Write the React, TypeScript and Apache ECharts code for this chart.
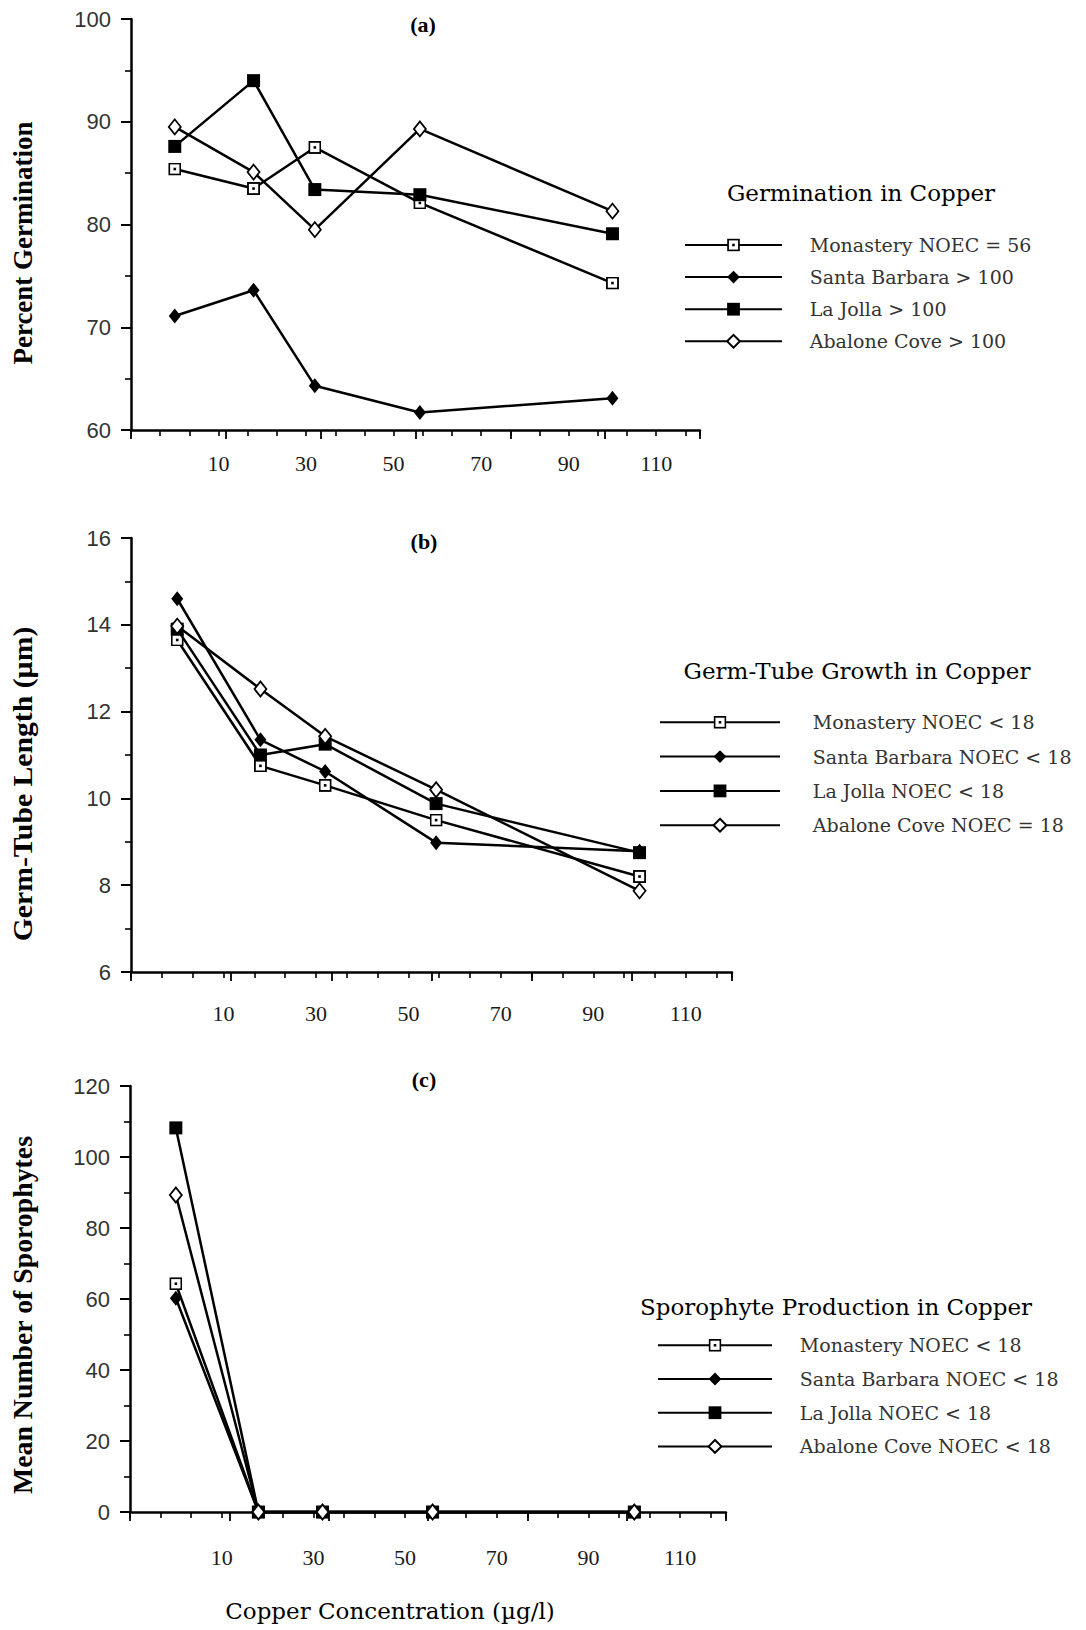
import React, { useEffect, useRef } from "react";
import * as echarts from "echarts";

// ---- Data ----
const concentrations = [0, 18, 32, 56, 100];

const germSeriesNames = [
  "Monastery NOEC = 56",
  "Santa Barbara > 100",
  "La Jolla > 100",
  "Abalone Cove > 100",
];
const monasteryGerm = [85.4, 83.5, 87.5, 82.1, 74.3];
const santaBarbaraGerm = [71.1, 73.6, 64.3, 61.7, 63.1];
const laJollaGerm = [87.6, 94.0, 83.4, 82.9, 79.1];
const abaloneGerm = [89.5, 85.1, 79.5, 89.3, 81.3];

const tubeSeriesNames = [
  "Monastery NOEC < 18",
  "Santa Barbara NOEC < 18",
  "La Jolla NOEC < 18",
  "Abalone Cove NOEC = 18",
];
const monasteryTube = [13.65, 10.75, 10.3, 9.5, 8.2];
const santaBarbaraTube = [14.6, 11.35, 10.62, 8.98, 8.78];
const laJollaTube = [13.9, 11.0, 11.25, 9.88, 8.75];
const abaloneTube = [13.97, 12.52, 11.43, 10.2, 7.87];

const sporoSeriesNames = [
  "Monastery NOEC < 18",
  "Santa Barbara NOEC < 18",
  "La Jolla NOEC < 18",
  "Abalone Cove NOEC < 18",
];
const monasterySporo = [64.3, 0, 0, 0, 0];
const santaBarbaraSporo = [60.2, 0, 0, 0, 0];
const laJollaSporo = [108.2, 0, 0, 0, 0];
const abaloneSporo = [89.3, 0, 0, 0, 0];

const xLabelValues = [10, 30, 50, 70, 90, 110];

const panelLabels = ["(a)", "(b)", "(c)"];
const legendTitles = [
  "Germination in Copper",
  "Germ-Tube Growth in Copper",
  "Sporophyte Production in Copper",
];
const yTitles = ["Percent Germination", "Germ-Tube Length (µm)", "Mean Number of Sporophytes"];
const xTitle = "Copper Concentration (µg/l)";

// ---- Styles / layout ----
const SERIF = "'Liberation Serif', 'Times New Roman', serif";
const WIDE_SERIF = "'DejaVu Serif', serif";
const SANS = "'Liberation Sans', Arial, sans-serif";

const openSquareSvg =
  "<svg xmlns='http://www.w3.org/2000/svg' width='14' height='14' viewBox='0 0 14 14'>" +
  "<rect x='1' y='1' width='12' height='12' fill='white' stroke='black' stroke-width='2'/>" +
  "<rect x='5.6' y='5.6' width='2.8' height='2.8' fill='black'/></svg>";
const openSquareSymbol = "image://data:image/svg+xml;charset=utf-8," + encodeURIComponent(openSquareSvg);

const markerStyles = [
  { symbol: openSquareSymbol, symbolSize: 13, itemStyle: { color: "#fff" } },
  { symbol: "diamond", symbolSize: [12, 15], itemStyle: { color: "#000" } },
  { symbol: "rect", symbolSize: 13, itemStyle: { color: "#000" } },
  { symbol: "diamond", symbolSize: [12, 15], itemStyle: { color: "#fff", borderColor: "#000", borderWidth: 1.8 } },
];

const grids = [
  { left: 131, top: 19, width: 569, height: 411 },
  { left: 131, top: 538, width: 601, height: 434 },
  { left: 130, top: 1086, width: 596, height: 426 },
];
const yRanges = [
  { min: 60, max: 100, interval: 10 },
  { min: 6, max: 16, interval: 2 },
  { min: 0, max: 120, interval: 20 },
];
const xLabelMargins = [22, 30, 34];

const legends = [
  { left: 684, top: 235.5, itemWidth: 97, itemGap: 13.1, pad: 22.7 },
  { left: 659, top: 712.8, itemWidth: 120, itemGap: 15.3, pad: 27.8 },
  { left: 657, top: 1335.8, itemWidth: 114, itemGap: 14.7, pad: 22.8 },
];
const legendTitlePos = [
  [861, 193],
  [857, 671],
  [836, 1307],
];
const panelLabelPos = [
  [423, 24],
  [424, 541],
  [424, 1079],
];
const yTitlePos = [
  [23, 243],
  [23, 784],
  [23, 1315],
];
const yTitleStretch = [1, 1.1, 1.03];
const xTitlePos = [390, 1611];

export default function App() {
  const ref = useRef<HTMLDivElement>(null);

  useEffect(() => {
    document.body.style.margin = "0";
    if (!ref.current) return;
    const chart = echarts.init(ref.current, undefined, { renderer: "svg" });

    const panels = [
      { names: germSeriesNames, values: [monasteryGerm, santaBarbaraGerm, laJollaGerm, abaloneGerm] },
      { names: tubeSeriesNames, values: [monasteryTube, santaBarbaraTube, laJollaTube, abaloneTube] },
      { names: sporoSeriesNames, values: [monasterySporo, santaBarbaraSporo, laJollaSporo, abaloneSporo] },
    ];

    const xAxes: any[] = [];
    const yAxes: any[] = [];
    const series: any[] = [];
    const legendOpts: any[] = [];
    const graphics: any[] = [];

    panels.forEach((p, i) => {
      // main x axis (labels + line)
      xAxes.push({
        type: "value",
        gridIndex: i,
        position: "bottom",
        min: -10,
        max: 120,
        interval: 10,
        axisLine: { show: true, onZero: false, lineStyle: { color: "#000", width: 2.5 } },
        axisTick: { show: false },
        splitLine: { show: false },
        axisLabel: {
          margin: xLabelMargins[i],
          fontFamily: SERIF,
          fontSize: 22,
          color: "#1a1a1a",
          formatter: (v: number) =>
            xLabelValues.indexOf(Math.round(v)) >= 0 && Math.abs(v - Math.round(v)) < 1e-6 ? String(Math.round(v)) : "",
        },
      });
      // minor tick axis (every 20/3 units starting at -10)
      xAxes.push({
        type: "value",
        gridIndex: i,
        position: "bottom",
        min: 0,
        max: 130,
        interval: 20 / 3,
        axisLine: { show: false, onZero: false },
        axisTick: { show: true, length: 6, lineStyle: { color: "#000", width: 1.6 } },
        axisLabel: { show: false },
        splitLine: { show: false },
      });
      // major tick axis (every 20 units starting at -10)
      xAxes.push({
        type: "value",
        gridIndex: i,
        position: "bottom",
        min: 0,
        max: 120,
        interval: 20,
        axisLine: { show: false, onZero: false },
        axisTick: { show: true, length: 9, lineStyle: { color: "#000", width: 1.8 } },
        axisLabel: { show: false },
        splitLine: { show: false },
      });
      yAxes.push({
        type: "value",
        gridIndex: i,
        min: yRanges[i].min,
        max: yRanges[i].max,
        interval: yRanges[i].interval,
        axisLine: { show: true, onZero: false, lineStyle: { color: "#000", width: 2.5 } },
        axisTick: { show: true, length: 10, lineStyle: { color: "#000", width: 2 } },
        minorTick: { show: true, splitNumber: 2, length: 6, lineStyle: { color: "#000", width: 1.6 } },
        splitLine: { show: false },
        minorSplitLine: { show: false },
        axisLabel: { margin: 20, fontFamily: SANS, fontSize: 22, color: "#333" },
      });

      p.names.forEach((name, k) => {
        series.push({
          type: "line",
          name,
          xAxisIndex: i * 3,
          yAxisIndex: i,
          data: concentrations.map((c, j) => [c, p.values[k][j]]),
          symbol: markerStyles[k].symbol,
          symbolSize: markerStyles[k].symbolSize,
          showAllSymbol: true,
          itemStyle: markerStyles[k].itemStyle,
          lineStyle: { color: "#000", width: 2.5 },
          clip: false,
          z: 3 + k,
        });
      });

      legendOpts.push({
        orient: "vertical",
        left: legends[i].left,
        top: legends[i].top,
        padding: 0,
        itemWidth: legends[i].itemWidth,
        itemHeight: 16,
        itemGap: legends[i].itemGap,
        selectedMode: false,
        data: p.names,
        textStyle: {
          fontFamily: WIDE_SERIF,
          fontSize: 19,
          color: "#333",
          padding: [0, 0, 0, legends[i].pad],
        },
      });

      graphics.push({
        type: "text",
        x: panelLabelPos[i][0],
        y: panelLabelPos[i][1],
        style: {
          text: panelLabels[i],
          fontFamily: SERIF,
          fontWeight: "bold",
          fontSize: 22,
          fill: "#000",
          textAlign: "center",
          textVerticalAlign: "middle",
        },
      });
      graphics.push({
        type: "text",
        x: legendTitlePos[i][0],
        y: legendTitlePos[i][1],
        style: {
          text: legendTitles[i],
          fontFamily: WIDE_SERIF,
          fontSize: 23,
          fill: "#000",
          textAlign: "center",
          textVerticalAlign: "middle",
        },
      });
      graphics.push({
        type: "text",
        x: yTitlePos[i][0],
        y: yTitlePos[i][1],
        rotation: Math.PI / 2,
        scaleX: yTitleStretch[i],
        style: {
          text: yTitles[i],
          fontFamily: SERIF,
          fontWeight: "bold",
          fontSize: 27,
          fill: "#000",
          textAlign: "center",
          textVerticalAlign: "middle",
        },
      });
    });

    graphics.push({
      type: "text",
      x: xTitlePos[0],
      y: xTitlePos[1],
      style: {
        text: xTitle,
        fontFamily: WIDE_SERIF,
        fontSize: 23,
        fill: "#000",
        textAlign: "center",
        textVerticalAlign: "middle",
      },
    });

    chart.setOption({
      animation: false,
      backgroundColor: "#fff",
      grid: grids.map((g) => ({ ...g, containLabel: false })),
      xAxis: xAxes,
      yAxis: yAxes,
      series,
      legend: legendOpts,
      graphic: graphics,
    });

    return () => {
      chart.dispose();
    };
  }, []);

  return <div ref={ref} style={{ width: 1086, height: 1630 }} />;
}
